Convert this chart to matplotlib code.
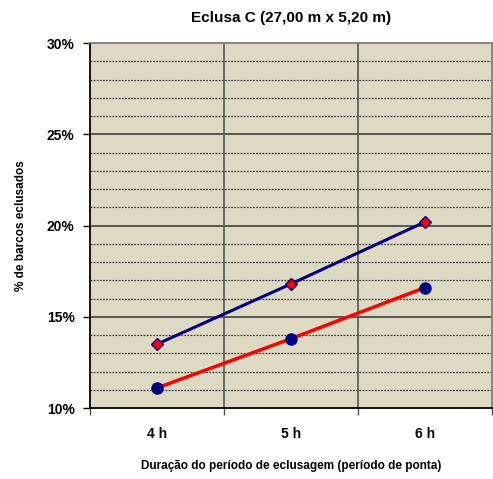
import matplotlib
matplotlib.use('Agg')
import matplotlib.pyplot as plt
from matplotlib.ticker import MultipleLocator, FuncFormatter

plt.rcParams['font.family'] = ['Liberation Sans', 'DejaVu Sans']

# durations and share of vessels locked (%)
periodos = ['4 h', '5 h', '6 h']
serie_azul = [13.5, 16.8, 20.2]
serie_vermelha = [11.1, 13.8, 16.6]

fig = plt.figure(figsize=(4.93, 4.79), dpi=100)
ax = fig.add_axes([0.1826, 0.1482, 0.8154, 0.762])
ax.set_facecolor('#DDD9C3')

x = range(len(periodos))
ax.set_xlim(-0.5, len(periodos) - 0.5)
ax.set_ylim(10, 30)

# grid: dotted every 1 %, solid every 5 %, solid between categories
for v in range(11, 30):
    if v % 5 == 0:
        ax.axhline(v, color='#404040', lw=1.2, zorder=1)
    else:
        ax.axhline(v, color='#404040', lw=0.9, ls=(0, (1.5, 1)), zorder=1)
for b in [0.5, 1.5]:
    ax.axvline(b, color='#555555', lw=1.2, zorder=1)

ax.plot(x, serie_azul, color='#000080', lw=2.2, marker='D', ms=6,
        mfc='red', mec='#000080', mew=1, zorder=3)
ax.plot(x, serie_vermelha, color='red', lw=2.5, marker='o', ms=8,
        mfc='#000080', mec='#000080', zorder=3)

ax.yaxis.set_major_locator(MultipleLocator(5))
ax.yaxis.set_major_formatter(FuncFormatter(lambda v, p: f'{v:.0f}%'))
ax.set_xticks(list(x))
ax.set_xticklabels(periodos)
ax.set_xticks([-0.5, 0.5, 1.5, 2.5], minor=True)
ax.tick_params(axis='x', which='major', length=0, pad=14, labelsize=10)
ax.tick_params(axis='x', which='minor', length=5, width=1, color='#555555')
ax.tick_params(axis='y', length=5, width=1, labelsize=10, pad=6)
for t in ax.get_xticklabels() + ax.get_yticklabels():
    t.set_fontweight('bold')

for s in ['left', 'bottom']:
    ax.spines[s].set_color('black')
    ax.spines[s].set_linewidth(1.3)
for s in ['top', 'right']:
    ax.spines[s].set_color('#808080')
    ax.spines[s].set_linewidth(1.3)

ax.set_title('Eclusa C (27,00 m x 5,20 m)', fontsize=11, fontweight='bold', pad=15)
ax.set_xlabel('Duração do período de eclusagem (período de ponta)',
              fontsize=8.5, fontweight='bold', labelpad=13)
ax.set_ylabel('% de barcos eclusados', fontsize=8.5, fontweight='bold', labelpad=14)

fig.savefig('out.png', dpi=100)
